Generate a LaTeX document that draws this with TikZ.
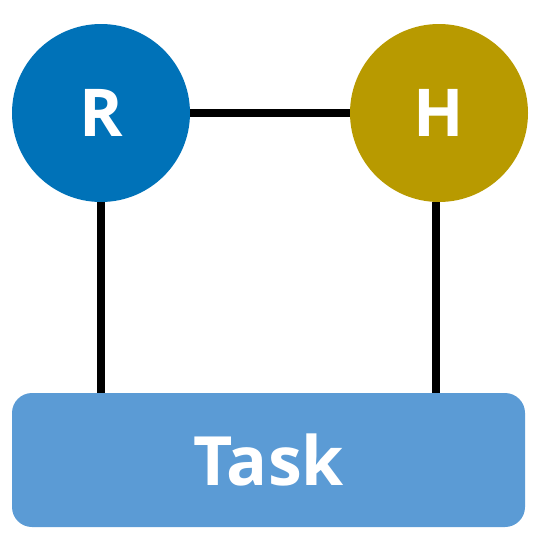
\documentclass[tikz,border=0pt]{standalone}
\usepackage{fontspec}
\setmainfont{Open Sans}[BoldFont={* Bold}]
\definecolor{rblue}{HTML}{0072B8}
\definecolor{hgold}{HTML}{B89A00}
\definecolor{taskblue}{HTML}{5B9BD5}
\begin{document}
\begin{tikzpicture}[x=1pt,y=-1pt,
  agent/.style={circle,minimum size=178pt,inner sep=0pt,text=white,font=\bfseries\fontsize{66}{78}\selectfont},
  taskbox/.style={rounded corners=20pt,minimum width=513pt,minimum height=134pt,inner sep=0pt,fill=taskblue,text=white,font=\bfseries\fontsize{68}{80}\selectfont},
  link/.style={line width=8pt,black}]
\useasboundingbox (0,0) rectangle (538,536);
\node[agent,fill=rblue] (R) at (101,113) {R};
\node[agent,fill=hgold] (H) at (439,113) {H};
\node[taskbox] (T) at (268.5,460) {Task};
\draw[link] (R.east) -- (H.west);
\draw[link] (R.south) -- (R.south |- T.north);
\draw[link] ([xshift=-3pt]H.south) -- ([xshift=-3pt]H.south |- T.north);
\end{tikzpicture}
\end{document}
